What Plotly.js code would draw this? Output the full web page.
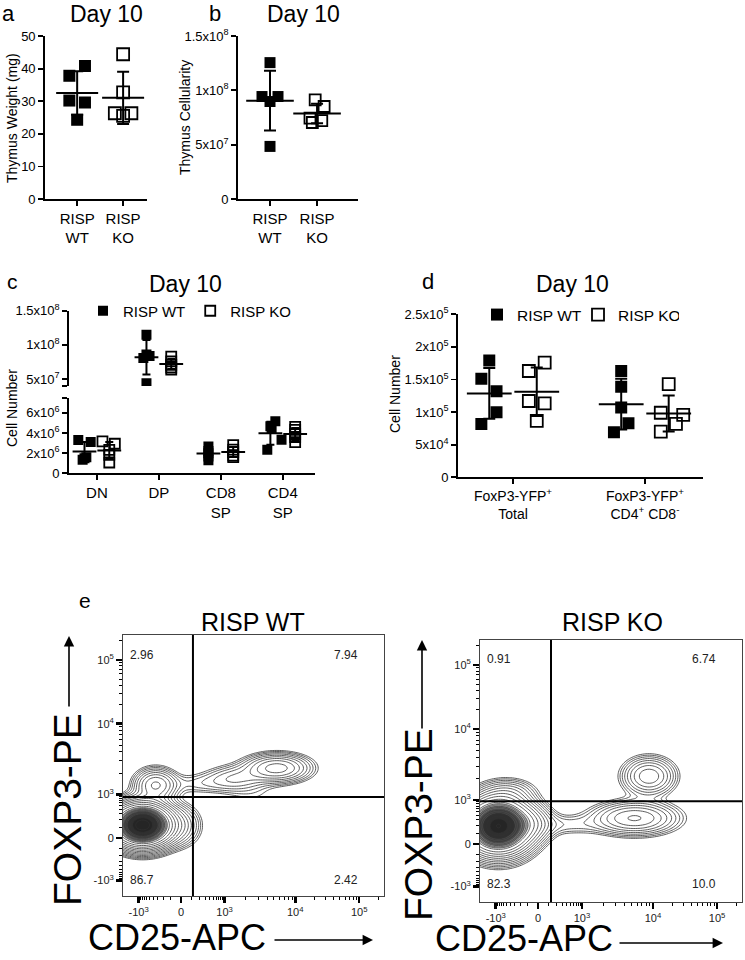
<!DOCTYPE html>
<html><head><meta charset="utf-8">
<script src="https://cdn.plot.ly/plotly-3.0.1.min.js"></script>
<style>html,body{margin:0;padding:0;background:#fff}#chart{width:745px;height:960px}</style>
</head><body><div id="chart"></div>
<script>
// ---------------- DATA ----------------
// Panel a: Thymus weight (mg)
const aCats = ['RISP<br>WT', 'RISP<br>KO'];
const aWT = [40.8, 37.8, 30.2, 29.6, 24.3];
const aKO = [44.4, 32.7, 26.3, 26.3, 25.5];
// Panel b: Thymus cellularity
const bWT = [1.255e8, 0.943e8, 0.943e8, 0.897e8, 0.484e8];
const bKO = [0.912e8, 0.851e8, 0.744e8, 0.722e8, 0.704e8];
const bTickVals = [0, 5e7, 1e8, 1.5e8];
const bTickText = ['0', '5x10<sup>7</sup>', '1x10<sup>8</sup>', '1.5x10<sup>8</sup>'];
// Panel c: cell number by subset
const cCats = ['DN', 'DP', 'CD8<br>SP', 'CD4<br>SP'];
const cWT_DN = [3.3e6, 3.1e6, 1.6e6, 1.5e6, 1.35e6];
const cKO_DN = [3.17e6, 2.93e6, 2.33e6, 1.83e6, 1.07e6];
const cWT_DP = [1.15e8, 0.86e8, 0.84e8, 0.81e8, 0.44e8];
const cKO_DP = [0.83e8, 0.76e8, 0.71e8, 0.67e8, 0.64e8];
const cWT_CD8 = [2.67e6, 2.2e6, 2.0e6, 1.67e6, 1.3e6];
const cKO_CD8 = [2.8e6, 2.35e6, 2.1e6, 1.75e6, 1.6e6];
const cWT_CD4 = [5.17e6, 4.67e6, 4.4e6, 3.33e6, 2.33e6];
const cKO_CD4 = [4.6e6, 4.3e6, 3.9e6, 3.6e6, 3.1e6];
const cLowTickVals = [0, 2e6, 4e6, 6e6, 7.5e6];
const cLowTickText = ['0', '2x10<sup>6</sup>', '4x10<sup>6</sup>', '6x10<sup>6</sup>', ''];
const cHighTickVals = [4e7, 5e7, 1e8, 1.5e8];
const cHighTickText = ['', '5x10<sup>7</sup>', '1x10<sup>8</sup>', '1.5x10<sup>8</sup>'];
// Panel d: FoxP3-YFP+ cell number
const dCats = ['FoxP3-YFP<sup>+</sup><br>Total', 'FoxP3-YFP<sup>+</sup><br>CD4<sup>+</sup> CD8<sup>-</sup>'];
const dWT_Total = [1.79e5, 1.51e5, 1.32e5, 0.997e5, 0.818e5];
const dKO_Total = [1.76e5, 1.63e5, 1.17e5, 1.135e5, 0.864e5];
const dWT_CD4 = [1.63e5, 1.39e5, 1.07e5, 0.83e5, 0.69e5];
const dKO_CD4 = [1.43e5, 0.99e5, 0.956e5, 0.818e5, 0.70e5];
const dTickVals = [0, 5e4, 1e5, 1.5e5, 2e5, 2.5e5];
const dTickText = ['0', '5x10<sup>4</sup>', '1x10<sup>5</sup>', '1.5x10<sup>5</sup>', '2x10<sup>5</sup>', '2.5x10<sup>5</sup>'];
// Panel e: flow cytometry (display = biexponential scale units 0..1)
const flowTickValues = [-1e3, 0, 1e3, 1e4, 1e5];
const flowTickText = ['-10<sup>3</sup>', '0', '10<sup>3</sup>', '10<sup>4</sup>', '10<sup>5</sup>'];
const flowTickDisplay = [0.06, 0.222, 0.389, 0.66, 0.905];
const quadWT = ['2.96', '7.94', '86.7', '2.42'];   // UL, UR, LL, LR (%)
const quadKO = ['0.91', '6.74', '82.3', '10.0'];
const gateWT = [0.268, 0.379];             // x gate, y gate (display units)
const gateKO = [0.271, 0.385];
// cell populations (display units): centre x, centre y, spread x, spread y, weight
const wtPopX = [0.075, 0.22, 0.125, 0.59, 0.43, 0.29, 0.50];
const wtPopY = [0.272, 0.27, 0.425, 0.49, 0.45, 0.43, 0.385];
const wtPopSX = [0.058, 0.045, 0.045, 0.07, 0.07, 0.08, 0.07];
const wtPopSY = [0.042, 0.045, 0.035, 0.03, 0.03, 0.025, 0.03];
const wtPopW = [0.85, 0.025, 0.04, 0.06, 0.02, 0.008, 0.004];
const koPopX = [0.07, 0.19, 0.11, 0.645, 0.59, 0.33];
const koPopY = [0.29, 0.3, 0.42, 0.48, 0.32, 0.295];
const koPopSX = [0.065, 0.05, 0.06, 0.055, 0.09, 0.09];
const koPopSY = [0.055, 0.04, 0.03, 0.04, 0.035, 0.025];
const koPopW = [0.8, 0.04, 0.015, 0.05, 0.08, 0.01];

// ---------------- STYLE / HELPERS ----------------
const FONT = 'Arial, "Liberation Sans", sans-serif';
const W = 745, H = 960;
const px = v => v / W, py = v => 1 - v / H;
const mean = a => a.reduce((s, v) => s + v, 0) / a.length;
const sd = a => { const m = mean(a); return Math.sqrt(a.reduce((s, v) => s + (v - m) ** 2, 0) / (a.length - 1)); };

const traces = [];
function group(xa, ya, x0, vals, jit, open, msize, meanW, capW, legendName, legendId) {
  traces.push({
    type: 'scatter', mode: 'markers', xaxis: xa, yaxis: ya,
    x: vals.map((v, i) => x0 + jit[i]), y: vals,
    marker: { symbol: open ? 'square-open' : 'square', size: msize, color: 'black', line: { width: open ? 1.8 : 0, color: 'black' } },
    showlegend: !!legendName, name: legendName || '', legend: legendId || 'legend', hoverinfo: 'skip'
  });
  traces.push({
    type: 'scatter', mode: 'markers', xaxis: xa, yaxis: ya, x: [x0], y: [mean(vals)],
    marker: { symbol: 'line-ew', size: meanW, color: 'black', line: { width: 2, color: 'black' } },
    error_y: { type: 'data', array: [sd(vals)], visible: true, color: 'black', thickness: 2, width: capW },
    showlegend: false, hoverinfo: 'skip'
  });
}

// Panel a
group('x', 'y', 1, aWT, [0.17, -0.17, -0.17, 0.17, 0], false, 12, 30, 6);
group('x', 'y', 2, aKO, [0, 0, -0.18, 0.18, 0], true, 12, 30, 6);
// Panel b
group('x2', 'y2', 1, bWT, [0, -0.17, 0.17, 0, 0], false, 11, 34, 6);
group('x2', 'y2', 2, bKO, [-0.04, 0.15, -0.15, 0.1, -0.1], true, 11, 34, 6);
// Panel c
const off = 0.2;
group('x3', 'y3', 0 - off, cWT_DN, [-0.1, 0.1, 0.03, 0, -0.03], false, 10, 17, 4, 'RISP WT', 'legend');
group('x3', 'y3', 0 + off, cKO_DN, [-0.11, 0.09, 0, 0, 0], true, 10, 17, 4, 'RISP KO', 'legend');
group('x3', 'y4', 1 - off, cWT_DP, [0, 0, 0.05, -0.05, 0], false, 10, 17, 4);
group('x3', 'y4', 1 + off, cKO_DP, [0, 0, 0, 0, 0], true, 10, 17, 4);
group('x3', 'y3', 2 - off, cWT_CD8, [0, 0, 0, 0, 0], false, 10, 17, 4);
group('x3', 'y3', 2 + off, cKO_CD8, [0, 0, 0, 0, 0], true, 10, 17, 4);
group('x3', 'y3', 3 - off, cWT_CD4, [0.08, 0, 0.02, 0.18, -0.05], false, 10, 17, 4);
group('x3', 'y3', 3 + off, cKO_CD4, [0, 0, 0, 0, 0], true, 10, 17, 4);
// Panel d
const offd = 0.18;
group('x4', 'y5', 1 - offd, dWT_Total, [0, -0.06, 0.055, 0.055, -0.06], false, 12, 32, 6, 'RISP WT', 'legend2');
group('x4', 'y5', 1 + offd, dKO_Total, [0.06, -0.06, -0.06, 0.06, 0], true, 12, 32, 6, 'RISP KO', 'legend2');
group('x4', 'y5', 2 - offd, dWT_CD4, [0, 0, 0, 0.055, -0.055], false, 12, 32, 6);
group('x4', 'y5', 2 + offd, dKO_CD4, [0, -0.06, 0.11, 0.055, -0.06], true, 12, 32, 6);

// Panel e contours (log density of the cell populations)
function densityGrid(PX, PY, SX, SY, PW) {
  const n = 190, lo = -0.2, hi = 1.05;
  const g = []; for (let i = 0; i < n; i++) g.push(lo + (hi - lo) * i / (n - 1));
  const z = g.map(yv => g.map(xv => {
    let d = 0;
    for (let k = 0; k < PX.length; k++) {
      const dx = (xv - PX[k]) / SX[k], dy = (yv - PY[k]) / SY[k];
      d += PW[k] / (2 * Math.PI * SX[k] * SY[k]) * Math.exp(-0.5 * (dx * dx + dy * dy));
    }
    return Math.log10(d + 1e-9);
  }));
  return { g, z };
}
function contourTrace(xa, ya, grid, start, end, size, width, color) {
  return {
    type: 'contour', xaxis: xa, yaxis: ya, x: grid.g, y: grid.g, z: grid.z,
    contours: { coloring: 'lines', start: start, end: end, size: size },
    line: { width: width, smoothing: 1 }, colorscale: [[0, color], [1, color]],
    showscale: false, hoverinfo: 'skip', showlegend: false
  };
}
function coreFill(xa, ya, grid, start, top) {
  return {
    type: 'contour', xaxis: xa, yaxis: ya, x: grid.g, y: grid.g, z: grid.z,
    contours: { coloring: 'fill', start: start, end: top, size: 0.12 },
    zauto: false, zmin: start - 0.12, zmax: top,
    colorscale: [[0, 'rgba(255,255,255,0)'], [0.12, 'rgba(255,255,255,0)'], [0.2, 'rgba(70,70,70,0.35)'], [1, 'rgba(35,35,35,0.8)']],
    line: { width: 0, smoothing: 1 }, showscale: false, hoverinfo: 'skip', showlegend: false
  };
}
const wtGrid = densityGrid(wtPopX, wtPopY, wtPopSX, wtPopSY, wtPopW);
const koGrid = densityGrid(koPopX, koPopY, koPopSX, koPopSY, koPopW);
traces.push(coreFill('x5', 'y6', wtGrid, 1.05, 1.75));
traces.push(coreFill('x6', 'y7', koGrid, 0.9, 1.56));
traces.push(contourTrace('x5', 'y6', wtGrid, -0.45, 1.2, 0.13, 0.8, '#333'));
traces.push(contourTrace('x5', 'y6', wtGrid, 1.2, 2.2, 0.05, 0.6, '#333'));
traces.push(contourTrace('x6', 'y7', koGrid, -0.45, 1.05, 0.13, 0.8, '#333'));
traces.push(contourTrace('x6', 'y7', koGrid, 1.05, 2.2, 0.05, 0.6, '#333'));

// biexponential display mapping for minor ticks
function flowDisp(v) {
  const p = flowTickDisplay;
  if (v >= 1e3) {
    const lg = Math.log10(v);
    if (lg <= 4) return p[2] + (lg - 3) * (p[3] - p[2]);
    return p[3] + (lg - 4) * (p[4] - p[3]);
  }
  const c = 150, s = Math.asinh(Math.abs(v) / c) / Math.asinh(1e3 / c);
  return v >= 0 ? p[1] + s * (p[2] - p[1]) : p[1] - s * (p[1] - p[0]);
}
const minorVals = [];
for (let k = 1; k <= 9; k++) { minorVals.push(flowDisp(k * 100)); minorVals.push(flowDisp(-k * 100)); }
for (let k = 2; k <= 9; k++) { minorVals.push(flowDisp(k * 1e3)); minorVals.push(flowDisp(k * 1e4)); }
minorVals.push(flowDisp(2e5));

// ---------------- LAYOUT ----------------
const baseAx = { showline: true, linewidth: 1.8, linecolor: 'black', ticks: 'outside', ticklen: 5, tickwidth: 1.8,
  tickcolor: 'black', zeroline: false, showgrid: false, tickfont: { family: FONT, size: 13, color: 'black' }, fixedrange: true };
const flowAx = Object.assign({}, baseAx, { range: [0, 1], mirror: true, linewidth: 1, linecolor: '#444',
  tickmode: 'array', tickvals: flowTickDisplay, ticktext: flowTickText, ticklen: 6, tickwidth: 2.5,
  tickfont: { family: FONT, size: 11, color: '#222' },
  minor: { tickmode: 'array', tickvals: minorVals, ticks: 'outside', ticklen: 3, tickwidth: 1, tickcolor: 'black' } });

const layout = {
  width: W, height: H, margin: { l: 0, r: 0, t: 0, b: 0 }, paper_bgcolor: 'white', plot_bgcolor: 'rgba(0,0,0,0)',
  font: { family: FONT, color: 'black' }, showlegend: true,
  xaxis: Object.assign({}, baseAx, { domain: [px(45), px(147)], range: [0.3, 2.52], anchor: 'y', tickmode: 'array', tickvals: [1, 2], ticktext: aCats, tickfont: { family: FONT, size: 15, color: 'black' } }),
  yaxis: Object.assign({}, baseAx, { domain: [py(199), py(36)], range: [0, 50], anchor: 'x', tickmode: 'array', tickvals: [0, 10, 20, 30, 40, 50] }),
  xaxis2: Object.assign({}, baseAx, { domain: [px(238), px(358)], range: [0.32, 2.87], anchor: 'y2', tickmode: 'array', tickvals: [1, 2], ticktext: aCats, tickfont: { family: FONT, size: 15, color: 'black' } }),
  yaxis2: Object.assign({}, baseAx, { domain: [py(199), py(36)], range: [0, 1.5e8], anchor: 'x2', tickmode: 'array', tickvals: bTickVals, ticktext: bTickText }),
  xaxis3: Object.assign({}, baseAx, { domain: [px(69), px(315)], range: [-0.45, 3.52], anchor: 'y3', tickmode: 'array', tickvals: [0, 1, 2, 3], ticktext: cCats, tickfont: { family: FONT, size: 15, color: 'black' } }),
  yaxis3: Object.assign({}, baseAx, { domain: [py(473.3), py(397.7)], range: [0, 7.5e6], anchor: 'x3', tickmode: 'array', tickvals: cLowTickVals, ticktext: cLowTickText }),
  yaxis4: Object.assign({}, baseAx, { domain: [py(386), py(310.7)], range: [4e7, 1.5e8], anchor: 'x3', tickmode: 'array', tickvals: cHighTickVals, ticktext: cHighTickText }),
  xaxis4: Object.assign({}, baseAx, { domain: [px(458), px(703)], range: [0.583, 2.44], anchor: 'y5', tickmode: 'array', tickvals: [1, 2], ticktext: dCats, tickfont: { family: FONT, size: 14, color: 'black' } }),
  yaxis5: Object.assign({}, baseAx, { domain: [py(477.3), py(314.3)], range: [0, 2.5e5], anchor: 'x4', tickmode: 'array', tickvals: dTickVals, ticktext: dTickText }),
  xaxis5: Object.assign({}, flowAx, { domain: [px(123), px(384)], anchor: 'y6' }),
  yaxis6: Object.assign({}, flowAx, { domain: [py(896), py(635)], anchor: 'x5' }),
  xaxis6: Object.assign({}, flowAx, { domain: [px(480), px(742)], anchor: 'y7' }),
  yaxis7: Object.assign({}, flowAx, { domain: [py(902), py(640)], anchor: 'x6' }),
  legend: { orientation: 'h', x: px(83), y: py(311), xanchor: 'left', yanchor: 'middle', font: { family: FONT, size: 15 }, bgcolor: 'rgba(0,0,0,0)' },
  legend2: { orientation: 'h', x: px(477), y: py(315), xanchor: 'left', yanchor: 'middle', font: { family: FONT, size: 15.5 }, bgcolor: 'rgba(0,0,0,0)', entrywidth: 56, entrywidthmode: 'pixels' },
  shapes: [], annotations: []
};

// gates
[[gateWT, 'x5', 'y6'], [gateKO, 'x6', 'y7']].forEach(([g, xa, ya]) => {
  layout.shapes.push({ type: 'line', xref: xa, yref: ya + ' domain', x0: g[0], x1: g[0], y0: 0, y1: 1, line: { color: 'black', width: 2 } });
  layout.shapes.push({ type: 'line', xref: xa + ' domain', yref: ya, x0: 0, x1: 1, y0: g[1], y1: g[1], line: { color: 'black', width: 2 } });
});

// quadrant percentages
function quad(vals, xa, ya, yTop, yBot) {
  const pos = [[0.02, yTop, 'left'], [0.908, yTop, 'right'], [0.02, yBot, 'left'], [0.908, yBot, 'right']];
  vals.forEach((v, i) => layout.annotations.push({ xref: xa + ' domain', yref: ya + ' domain', x: pos[i][0], y: pos[i][1],
    xanchor: pos[i][2], yanchor: 'middle', showarrow: false, text: v,
    font: { family: FONT, size: 12, color: '#222' } }));
}
quad(quadWT, 'x5', 'y6', 0.923, 0.061);
quad(quadKO, 'x6', 'y7', 0.927, 0.069);

function txt(t, x, y, size, extra) {
  layout.annotations.push(Object.assign({ xref: 'paper', yref: 'paper', x: px(x), y: py(y), text: t, showarrow: false,
    xanchor: 'center', yanchor: 'middle', font: { family: FONT, size: size, color: 'black' } }, extra || {}));
}
// panel letters and titles
txt('a', 8, 13, 22); txt('b', 215, 13, 22); txt('c', 12, 281, 21); txt('d', 428, 281, 22); txt('e', 85, 600, 21);
txt('Day 10', 106, 14, 23); txt('Day 10', 303, 14, 23); txt('Day 10', 185, 284, 23); txt('Day 10', 572, 284, 23);
// axis titles
txt('Thymus Weight (mg)', 12, 118, 14, { textangle: -90 });
txt('Thymus Cellularity', 185, 118, 14, { textangle: -90 });
txt('Cell Number', 12, 408, 14, { textangle: -90 });
txt('Cell Number', 395, 394, 14, { textangle: -90 });
// flow titles
txt('RISP WT', 253, 622, 25); txt('RISP KO', 612, 622, 25);
txt('FOXP3-PE', 67, 810, 39, { textangle: -90 });
txt('FOXP3-PE', 418, 825, 39, { textangle: -90 });
txt('CD25-APC', 177, 937, 36); txt('CD25-APC', 524, 938, 36);
// arrows
function arrow(x, y, ax, ay) {
  layout.annotations.push({ xref: 'paper', yref: 'paper', x: px(x), y: py(y), ax: ax, ay: ay, text: '', showarrow: true,
    arrowhead: 2, arrowsize: 1.3, arrowwidth: 1.6, arrowcolor: 'black' });
}
arrow(69, 636, 0, 72); arrow(422, 640, 0, 90);
arrow(373, 940, -100, 0); arrow(723, 943, -105, 0);

Plotly.newPlot('chart', traces, layout, { staticPlot: true, displayModeBar: false });
</script></body></html>
